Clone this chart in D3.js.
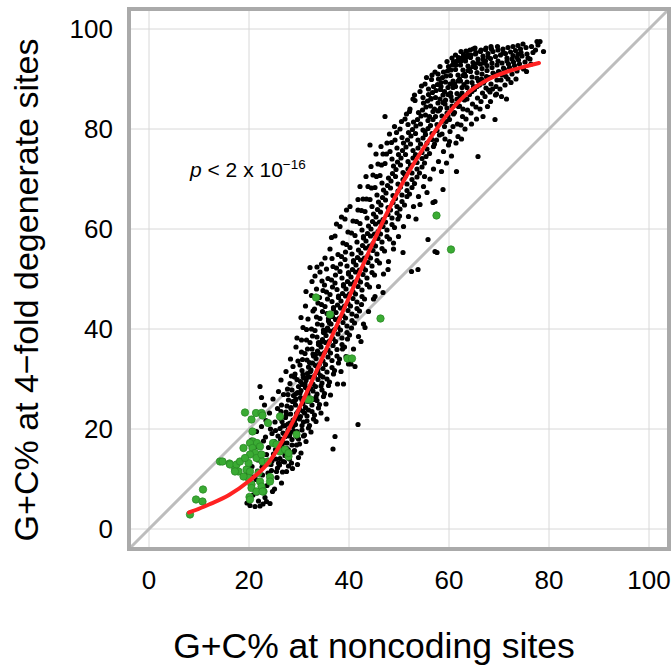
<!DOCTYPE html>
<html>
<head>
<meta charset="utf-8">
<script src="https://cdn.jsdelivr.net/npm/d3@7"></script>
<style>
  html, body { margin: 0; padding: 0; background: #fff; }
  svg { display: block; }
  text { font-family: "Liberation Sans", Arial, Helvetica, sans-serif; fill: #000; }
</style>
</head>
<body>
<svg id="chart" width="672" height="669"></svg>
<script>
// ---- data ----
const xTicks = [0, 20, 40, 60, 80, 100];
const yTicks = [0, 20, 40, 60, 80, 100];
const xTitle = "G+C% at noncoding sites";
const yTitle = "G+C% at 4\u2212fold degenerate sites";

// fitted curve (noncoding GC, 4-fold GC)
const fitX = [8, 12, 16, 20, 24, 28, 32, 36, 40, 44, 48, 52, 56, 60, 64, 68, 72, 76, 78];
const fitY = [3.3, 4.9, 6.8, 9.6, 13.4, 20.0, 28.3, 37.2, 46.3, 55.5, 64.0, 71.5, 77.8, 83.3, 87.4, 90.0, 91.6, 92.7, 93.2];

// green genes [noncoding GC, 4-fold GC]
const greenPoints = [
[8.2,2.9],[9.4,5.9],[10.7,5.5],[10.8,7.9],[14.2,13.5],[14.7,13.5],[16.1,13.1],[16.2,12.9],[17.2,11.9],[17.5,12.9],
[18.2,13.5],[17.9,11.5],[17.2,11.5],[18.9,16.2],[19.5,11.9],[19.9,13.2],[19.2,23.3],[20.5,21.9],[21.4,23.2],[22.5,23.2],
[22.7,22.7],[23.8,21.2],[20.7,19.5],[20.8,17.5],[20.2,17.2],[21.6,17.2],[22.2,16.5],[20.7,16.2],[21.2,15.2],[20.2,14.9],
[19.2,14.2],[21.5,14.2],[26.2,22.5],[24.8,17.2],[25.5,16.9],[26.2,15.5],[27.2,15.9],[27.9,14.5],[29.5,18.9],[22.5,14.9],
[22.7,13.5],[23.8,13.5],[20.2,11.5],[19.9,10.2],[20.5,8.9],[20.5,8.2],[22.2,9.5],[22.5,8.5],[24.2,10.4],[24.2,9.5],
[21.5,7.5],[22.9,7.5],[20.1,6.4],[20.2,5.9],[21.9,11.2],[18.9,10.5],[32.2,25.9],[31.8,25.9],[27.9,15.2],[22.7,7.5],
[33.4,46.3],[36.2,42.9],[46.3,42.1],[39.7,34.1],[40.6,34.1],[57.5,62.7],[60.4,55.9]
];

// black genes [noncoding GC, 4-fold GC]
const blackPoints = [
[19.6,5.2],[19.8,11.0],
[20.2,4.7],[20.4,8.5],[20.6,12.5],[20.8,6.8],[20.5,17.8],[20.9,10.4],
[21.2,4.5],[21.4,9.9],[21.6,7.2],[21.8,13.8],[21.3,16.5],[21.7,11.6],[21.9,5.6],[21.5,19.5],
[22.2,4.6],[22.2,28.5],[22.5,26.3],[22.4,9.0],[22.6,12.4],[22.8,5.0],[22.3,15.1],[22.9,17.6],[22.7,10.8],[22.5,20.5],
[23.2,6.3],[23.5,14.9],[23.5,5.5],[23.8,11.2],[23.3,18.4],[23.6,8.7],[23.9,16.3],[23.4,21.7],[23.7,13.0],[23.1,24.8],
[24.2,5.1],[24.4,9.8],[24.6,13.6],[24.8,17.1],[24.3,20.0],[24.5,11.7],[24.7,7.5],[24.9,15.0],[24.1,23.2],[24.6,19.1],[24.8,26.0],[24.4,12.9],
[25.1,8.0],[25.7,12.2],[25.3,15.9],[25.8,18.6],[25.9,27.5],[25.2,21.4],[25.6,10.3],[25.4,14.0],[25.8,16.8],[25.3,19.7],[25.7,24.1],[25.5,11.5],[25.9,13.2],[25.1,17.5],
[26.5,9.2],[26.1,12.8],[26.7,15.4],[26.3,18.0],[26.8,20.6],[26.4,23.5],[26.9,26.9],[26.2,14.1],[26.6,16.6],[26.8,19.2],[26.3,22.1],[26.7,11.4],[26.9,17.3],[26.2,20.1],[26.5,24.8],[26.8,13.5],[26.4,29.8],[26.6,21.5],
[27.1,13.4],[27.6,16.1],[27.3,18.5],[27.8,21.0],[27.4,23.4],[27.9,25.8],[27.2,14.7],[27.6,17.2],[27.8,19.8],[27.3,22.3],[27.7,28.0],[27.5,11.5],[27.9,15.8],[27.1,19.0],[27.6,24.6],[27.8,26.9],[27.2,20.7],[27.4,31.5],[27.9,12.6],[27.5,22.9],
[28.1,14.0],[28.6,16.8],[28.3,19.3],[28.8,21.8],[28.4,24.3],[28.9,26.7],[28.2,29.1],[28.6,17.9],[28.8,20.5],[28.3,23.0],[28.7,25.5],[28.5,13.2],[28.9,15.4],[28.1,18.6],[28.6,27.8],[28.8,32.5],[28.2,21.2],[28.4,24.1],[28.9,19.6],[28.5,30.6],[28.7,12.1],[28.3,34.0],
[29.1,15.7],[29.6,18.4],[29.3,20.9],[29.8,23.5],[29.4,26.0],[29.9,28.5],[29.2,31.0],[29.6,19.5],[29.8,22.2],[29.3,24.8],[29.7,27.3],[29.5,16.8],[29.9,14.3],[29.1,21.6],[29.6,29.9],[29.8,33.6],[29.2,25.7],[29.4,36.4],[29.9,18.0],[29.5,23.1],[29.7,12.9],[29.3,27.0],[29.6,38.2],[29.1,30.4],
[30.1,17.0],[30.6,19.8],[30.3,22.5],[30.8,25.1],[30.4,27.7],[30.9,30.3],[30.2,32.8],[30.6,20.7],[30.8,23.6],[30.3,26.3],[30.7,28.9],[30.5,35.4],[30.9,18.6],[30.1,24.0],[30.6,31.7],[30.8,40.3],[30.2,27.2],[30.4,15.2],[30.9,21.4],[30.5,37.8],[30.7,33.9],[30.3,29.5],[30.6,25.8],[30.1,22.0],[30.8,30.9],[30.4,42.3],
[31.1,18.8],[31.6,21.6],[31.3,24.3],[31.8,27.0],[31.4,29.7],[31.9,32.4],[31.2,35.1],[31.6,22.6],[31.8,25.5],[31.3,28.3],[31.7,31.1],[31.5,37.8],[31.9,20.2],[31.1,26.0],[31.6,33.8],[31.8,42.0],[31.2,29.0],[31.4,17.5],[31.9,23.8],[31.5,39.9],[31.7,36.0],[31.3,44.6],[31.6,30.3],[31.1,23.2],[31.8,27.8],[31.4,47.5],
[32.1,20.7],[32.6,23.5],[32.3,26.2],[32.8,29.0],[32.4,31.8],[32.9,34.6],[32.2,37.3],[32.6,24.8],[32.8,27.6],[32.3,30.4],[32.7,33.2],[32.5,40.0],[32.9,22.0],[32.1,28.3],[32.6,36.0],[32.8,43.6],[32.2,52.3],[32.4,19.4],[32.9,25.9],[32.5,46.7],[32.7,38.6],[32.3,31.5],[32.6,49.5],[32.1,33.3],[32.8,35.0],[32.4,28.1],
[33.1,22.8],[33.6,25.7],[33.3,28.5],[33.8,31.3],[33.4,34.1],[33.9,36.9],[33.2,39.7],[33.6,27.0],[33.8,29.9],[33.3,32.7],[33.7,35.6],[33.5,42.4],[33.9,24.2],[33.1,30.6],[33.6,38.4],[33.8,45.2],[33.2,50.6],[33.4,21.5],[33.9,37.3],[33.5,48.0],[33.7,41.0],[33.3,34.9],[33.6,52.4],[33.1,44.0],[33.8,32.0],[33.4,26.4],
[34.1,24.9],[34.6,27.8],[34.3,30.7],[34.8,33.6],[34.4,36.4],[34.9,39.3],[34.2,42.1],[34.6,29.2],[34.8,32.1],[34.3,35.0],[34.7,37.9],[34.5,44.9],[34.9,26.5],[34.1,33.0],[34.6,40.8],[34.8,47.7],[34.2,51.4],[34.4,23.2],[34.9,39.8],[34.5,53.0],[34.7,43.5],[34.3,37.3],[34.6,49.6],[34.1,46.3],[34.8,30.4],[34.4,28.6],
[35.1,27.1],[35.6,30.0],[35.3,32.9],[35.8,35.8],[35.4,38.7],[35.9,41.6],[35.2,44.5],[35.6,31.4],[35.8,34.4],[35.3,37.3],[35.7,40.2],[35.5,47.4],[35.9,28.7],[35.1,35.3],[35.6,43.1],[35.8,50.1],[35.2,54.2],[35.4,25.0],[35.9,42.1],[35.5,52.0],[35.7,46.0],[35.3,39.6],[35.6,22.0],[35.1,48.8],
[36.1,29.4],[36.6,32.3],[36.3,35.2],[36.8,38.1],[36.4,41.0],[36.9,44.0],[36.2,46.9],[36.6,33.7],[36.8,36.7],[36.3,39.6],[36.7,42.5],[36.5,49.8],[36.9,31.0],[36.1,37.6],[36.6,45.5],[36.8,52.5],[36.2,56.0],[36.8,16.0],[36.9,44.3],[36.5,58.3],[36.7,48.4],[36.3,26.8],[36.6,54.1],[36.1,41.2],
[37.1,31.7],[37.6,34.6],[37.3,37.5],[37.8,40.4],[37.4,43.3],[37.9,46.3],[37.2,49.2],[37.6,35.9],[37.8,39.0],[37.3,41.9],[37.7,44.8],[37.5,52.2],[37.9,33.2],[37.1,39.9],[37.6,47.9],[37.8,54.9],[37.2,58.6],[37.2,18.5],[37.9,46.6],[37.5,61.0],[37.7,29.0],[37.3,50.8],
[38.1,34.0],[38.6,36.9],[38.3,39.8],[38.8,42.7],[38.4,45.6],[38.9,48.6],[38.2,51.5],[38.6,38.2],[38.8,41.3],[38.3,44.2],[38.7,47.1],[38.5,54.5],[38.9,29.0],[38.1,42.2],[38.6,50.2],[38.8,57.2],[38.2,60.5],[38.4,31.5],[38.9,48.9],[38.5,62.4],[38.7,36.0],[38.3,53.0],
[39.1,36.4],[39.6,39.3],[39.3,42.2],[39.8,45.1],[39.4,48.0],[39.9,51.0],[39.2,53.9],[39.6,40.6],[39.8,43.7],[39.3,46.6],[39.7,49.5],[39.5,56.9],[39.9,33.0],[39.1,44.6],[39.6,52.6],[39.8,59.4],[39.2,62.0],[39.4,34.5],[39.9,51.3],[39.5,63.8],[39.7,38.0],[39.3,55.4],
[40.1,38.8],[40.6,41.7],[40.3,44.6],[40.8,47.5],[40.4,50.4],[40.9,53.4],[40.2,56.3],[40.6,43.0],[40.8,46.1],[40.3,49.0],[40.7,51.9],[40.5,59.2],[40.9,36.0],[40.1,47.0],[40.6,55.0],[40.8,61.6],[40.2,64.5],[40.4,33.0],[40.9,53.7],[40.5,40.2],
[41.1,41.2],[41.6,44.1],[41.3,47.0],[41.8,49.9],[41.4,52.8],[41.9,55.8],[41.2,58.7],[41.6,45.4],[41.8,48.5],[41.3,51.4],[41.7,54.3],[41.5,61.5],[41.9,38.5],[41.1,49.4],[41.6,57.4],[41.8,63.8],[41.8,65.9],[41.8,20.9],[41.2,32.5],[41.5,42.6],
[42.1,43.6],[42.6,46.5],[42.3,49.4],[42.8,52.3],[42.4,55.2],[42.9,58.2],[42.2,61.1],[42.6,47.8],[42.8,50.9],[42.3,53.8],[42.7,56.7],[42.5,63.7],[42.9,41.0],[42.1,51.8],[42.6,59.8],[42.8,66.0],[42.2,68.5],[42.4,37.5],[42.9,58.5],[42.5,44.9],
[43.1,46.0],[43.6,48.9],[43.3,51.8],[43.8,54.7],[43.4,57.6],[43.9,60.6],[43.2,63.5],[43.6,50.2],[43.8,53.3],[43.3,56.2],[43.7,59.1],[43.5,66.0],[43.9,43.5],[43.1,54.2],[43.6,62.2],[43.8,68.5],[43.2,40.3],[43.4,70.5],
[44.1,48.4],[44.6,51.3],[44.3,54.2],[44.8,57.1],[44.4,60.0],[44.9,63.0],[44.2,65.9],[44.6,52.6],[44.8,55.7],[44.3,58.6],[44.7,61.5],[44.5,68.2],[44.9,46.0],[44.1,56.6],[44.6,64.5],[44.8,70.8],[44.2,76.8],[44.4,72.5],
[45.1,50.8],[45.6,53.7],[45.3,56.6],[45.8,59.5],[45.4,62.4],[45.9,65.4],[45.2,68.3],[45.6,55.0],[45.8,58.1],[45.3,61.0],[45.7,63.9],[45.5,70.5],[45.9,48.5],[45.1,59.0],[45.6,66.8],[45.8,73.0],[45.2,46.5],[45.4,75.0],
[46.1,53.2],[46.6,56.1],[46.3,59.0],[46.8,61.9],[46.4,64.8],[46.9,67.8],[46.2,70.7],[46.6,57.4],[46.8,60.5],[46.3,63.4],[46.7,66.3],[46.5,72.8],[46.9,51.0],[46.1,61.4],[46.6,69.2],[46.8,75.0],[46.8,47.3],[46.4,76.5],
[47.1,55.6],[47.6,58.5],[47.3,61.4],[47.8,64.3],[47.4,67.2],[47.9,70.2],[47.2,73.1],[47.6,59.8],[47.8,62.9],[47.3,65.8],[47.7,68.7],[47.5,75.0],[47.9,53.5],[47.2,82.5],[47.8,51.9],[47.6,77.2],
[48.1,58.0],[48.6,60.9],[48.3,63.8],[48.8,66.7],[48.4,69.6],[48.9,72.6],[48.2,75.5],[48.6,62.2],[48.8,65.3],[48.3,68.2],[48.7,71.1],[48.5,77.3],[48.9,56.0],[48.1,79.0],[48.6,74.0],[48.9,57.2],
[49.1,60.3],[49.6,63.2],[49.3,66.1],[49.8,69.0],[49.4,71.9],[49.9,74.9],[49.2,77.8],[49.6,64.5],[49.8,67.6],[49.3,70.5],[49.7,73.4],[49.5,79.3],[49.9,58.5],[49.1,80.5],[49.6,76.2],[49.8,62.0],
[50.1,62.6],[50.6,65.5],[50.3,68.4],[50.8,71.3],[50.4,74.2],[50.9,77.2],[50.2,80.0],[50.6,66.8],[50.8,69.9],[50.3,72.8],[50.7,75.7],[50.5,81.5],[50.9,60.5],[50.8,55.3],[50.6,78.3],[50.2,64.0],
[51.1,64.8],[51.6,67.7],[51.3,70.6],[51.8,73.5],[51.4,76.4],[51.9,79.3],[51.2,82.0],[51.6,69.0],[51.8,72.0],[51.3,74.9],[51.7,77.8],[51.5,83.0],[51.9,62.5],[51.8,80.9],[51.6,66.5],[51.1,71.0],
[52.1,67.0],[52.6,69.9],[52.3,72.8],[52.8,75.7],[52.4,78.6],[52.9,81.4],[52.2,84.0],[52.6,71.2],[52.8,74.2],[52.3,77.0],[52.7,79.9],[52.5,51.5],[52.9,64.5],[52.1,83.5],[52.6,68.3],[52.8,86.0],
[53.1,69.1],[53.6,72.0],[53.3,74.9],[53.8,77.8],[53.4,80.6],[53.9,83.3],[53.2,85.7],[53.6,73.3],[53.8,76.2],[53.3,79.1],[53.7,81.9],[53.8,51.9],[53.9,66.5],[53.1,86.8],[53.6,70.4],[53.4,62.0],
[54.1,71.2],[54.6,74.1],[54.3,77.0],[54.8,79.8],[54.4,82.6],[54.9,85.2],[54.2,87.5],[54.6,75.3],[54.8,78.2],[54.3,81.0],[54.7,83.8],[54.2,64.9],[54.9,68.5],[54.5,88.6],[54.6,72.4],[54.8,86.3],
[55.1,73.2],[55.6,76.0],[55.3,78.9],[55.8,81.7],[55.4,84.4],[55.9,86.9],[55.2,89.0],[55.6,77.2],[55.8,80.1],[55.3,82.8],[55.7,85.6],[55.8,57.9],[55.6,67.3],[55.1,70.5],[55.9,88.0],[55.4,74.5],[55.5,90.3],[55.2,79.5],
[56.1,75.1],[56.6,77.9],[56.3,80.7],[56.8,83.5],[56.4,86.1],[56.9,88.5],[56.5,89.9],[56.6,79.1],[56.8,81.9],[56.3,84.6],[56.7,87.3],[56.8,65.3],[56.9,72.0],[56.1,82.5],[56.4,86.0],[56.6,90.8],[56.2,70.0],[56.9,76.5],
[57.1,77.0],[57.6,79.7],[57.3,82.5],[57.8,85.2],[57.4,87.7],[57.9,90.0],[57.2,91.4],[57.6,80.9],[57.8,83.6],[57.3,86.3],[57.7,88.9],[57.2,55.5],[57.2,65.5],[57.6,55.3],[57.9,73.5],[57.1,84.0],[57.5,77.8],[57.8,91.0],
[58.1,78.8],[58.6,81.5],[58.3,84.2],[58.8,86.8],[58.4,89.3],[58.9,91.4],[58.2,92.5],[58.6,82.6],[58.8,85.3],[58.3,87.9],[58.7,90.3],[58.8,67.9],[58.5,71.5],[58.9,75.5],[58.1,83.8],[58.4,88.5],[58.6,79.0],[58.2,86.0],
[59.1,80.5],[59.6,83.2],[59.3,85.8],[59.8,88.3],[59.4,90.6],[59.9,92.5],[59.2,78.0],[59.6,84.2],[59.8,86.9],[59.3,89.4],[59.7,91.6],[59.5,73.2],[59.9,76.8],[59.1,87.5],[59.4,81.5],[59.6,93.5],[59.8,82.7],[59.2,85.0],
[60.1,81.9],[60.6,84.6],[60.3,87.2],[60.8,89.6],[60.4,91.8],[60.9,93.5],[60.2,79.5],[60.6,85.7],[60.8,88.3],[60.3,90.7],[60.7,92.8],[60.5,74.6],[60.9,83.0],[60.1,77.5],[60.4,86.5],[60.6,94.2],[60.8,80.5],[60.2,89.0],
[61.1,83.3],[61.6,86.0],[61.3,88.5],[61.8,90.8],[61.4,92.8],[61.9,94.3],[61.5,71.5],[61.6,87.1],[61.8,89.6],[61.3,91.9],[61.7,81.0],[61.4,77.2],[61.9,84.5],[61.1,89.0],[61.6,93.6],[61.8,78.5],[61.3,94.8],[61.5,85.0],
[62.1,84.6],[62.6,87.2],[62.3,89.6],[62.8,91.8],[62.4,93.6],[62.9,94.9],[62.4,80.8],[62.6,88.3],[62.8,90.7],[62.3,92.8],[62.7,82.5],[62.5,78.0],[62.9,86.0],[62.1,90.0],[62.6,94.2],[62.8,84.0],[62.4,95.5],[62.2,86.6],
[63.1,85.8],[63.6,88.3],[63.3,90.6],[63.8,92.6],[63.4,94.3],[63.5,94.5],[63.4,82.0],[63.6,89.4],[63.8,91.7],[63.3,93.6],[63.7,83.8],[63.8,94.9],[63.9,87.3],[63.1,91.0],[63.6,86.0],[63.2,80.0],[63.4,95.6],[63.0,88.9],
[64.1,86.9],[64.6,89.3],[64.3,91.5],[64.8,93.3],[64.4,94.8],[64.2,95.8],[64.4,83.2],[64.6,90.4],[64.8,92.5],[64.3,94.3],[64.7,85.0],[64.5,81.0],[64.9,88.5],[64.1,92.0],[64.6,87.5],[64.8,96.0],
[65.1,87.9],[65.6,90.2],[65.3,92.3],[65.8,94.0],[65.4,95.3],[65.8,74.5],[65.4,84.4],[65.6,91.3],[65.8,93.2],[65.3,95.0],[65.7,86.2],[65.5,82.0],[65.9,89.6],[65.1,93.0],[65.6,88.5],[65.2,96.2],
[66.1,88.8],[66.6,91.0],[66.3,93.0],[66.8,94.6],[66.4,95.8],[66.8,82.5],[66.4,85.5],[66.6,92.1],[66.8,93.9],[66.3,95.5],[66.7,87.2],[66.5,90.0],[66.9,89.2],[66.2,84.0],
[67.1,89.6],[67.6,91.7],[67.3,93.6],[67.8,95.1],[67.4,96.2],[67.2,86.5],[67.4,88.2],[67.6,92.7],[67.8,94.4],[67.3,95.9],[67.7,84.5],[67.5,90.5],[67.9,87.8],[67.1,93.2],
[68.1,90.3],[68.6,92.3],[68.3,94.1],[68.8,95.5],[68.4,96.5],[68.2,87.4],[68.4,89.0],[68.6,93.2],[68.8,91.2],[68.3,85.5],[68.7,88.0],[68.5,96.0],
[69.1,90.9],[69.6,92.8],[69.3,94.5],[69.8,95.8],[69.2,81.9],[69.4,88.5],[69.6,89.8],[69.8,93.6],[69.9,91.5],[69.3,86.8],[69.7,96.5],[69.5,87.0],
[70.1,91.4],[70.6,93.2],[70.3,94.8],[70.8,96.0],[70.9,92.2],[70.2,88.0],[70.4,89.8],[70.6,90.8],[70.8,95.2],[70.5,86.5],
[71.1,91.9],[71.6,93.6],[71.3,95.1],[71.8,96.3],[71.9,93.0],[71.2,88.8],[71.4,90.5],[71.6,94.2],[71.8,90.0],[71.5,86.0],
[72.1,92.3],[72.6,94.0],[72.3,95.4],[72.8,96.5],[72.9,93.4],[72.4,89.3],[72.6,91.0],[72.8,94.7],
[73.1,92.7],[73.6,94.3],[73.3,95.7],[73.8,96.7],[73.9,93.8],[73.4,90.0],[73.6,91.6],[73.8,95.0],
[74.1,93.0],[74.6,94.6],[74.3,96.0],[74.8,97.0],[74.9,92.0],[74.4,95.3],
[75.2,93.4],[75.6,95.0],[75.4,96.3],[75.8,94.2],[75.5,91.5],
[76.2,94.0],[76.5,96.5],[76.8,95.3],[76.4,93.0],
[77.3,95.8],[77.6,97.5],[77.8,96.8],
[78.2,97.5],[78.9,95.5]
];

const annotationMain = "p < 2 x 10";
const annotationExp = "\u221216";

// ---- drawing ----
const svg = d3.select("#chart");
const x = d3.scaleLinear().domain([-4, 104]).range([129, 669]);
const y = d3.scaleLinear().domain([-4, 104]).range([549, 9]);

const [x0, x1] = x.range();
const [y0, y1] = y.range();

// grid
svg.append("g").selectAll("line").data(xTicks).join("line")
  .attr("x1", d => x(d)).attr("x2", d => x(d))
  .attr("y1", y1).attr("y2", y0)
  .attr("stroke", "#d8d8d8").attr("stroke-width", 1);
svg.append("g").selectAll("line").data(yTicks).join("line")
  .attr("y1", d => y(d)).attr("y2", d => y(d))
  .attr("x1", x0).attr("x2", x1)
  .attr("stroke", "#d8d8d8").attr("stroke-width", 1);

// diagonal y = x
svg.append("line")
  .attr("x1", x(-4)).attr("y1", y(-4))
  .attr("x2", x(104)).attr("y2", y(104))
  .attr("stroke", "#bdbdbd").attr("stroke-width", 3);

// black points
svg.append("g").selectAll("circle").data(blackPoints).join("circle")
  .attr("cx", d => x(d[0])).attr("cy", d => y(d[1]))
  .attr("r", 2.6).attr("fill", "#000");

// green points
svg.append("g").selectAll("circle").data(greenPoints).join("circle")
  .attr("cx", d => x(d[0])).attr("cy", d => y(d[1]))
  .attr("r", 3.7).attr("fill", "#3aab33").attr("stroke", "#2b8a27").attr("stroke-width", 0.8);

// fitted curve
const fit = fitX.map((v, i) => [v, fitY[i]]);
svg.append("path")
  .datum(fit)
  .attr("d", d3.line().x(d => x(d[0])).y(d => y(d[1])).curve(d3.curveMonotoneX))
  .attr("fill", "none").attr("stroke", "#ff2222").attr("stroke-width", 4)
  .attr("stroke-linecap", "round");

// frame
svg.append("rect")
  .attr("x", x0).attr("y", y1)
  .attr("width", x1 - x0).attr("height", y0 - y1)
  .attr("fill", "none").attr("stroke", "#aaaaaa").attr("stroke-width", 4);

// tick labels
svg.append("g").selectAll("text").data(yTicks).join("text")
  .attr("x", 113).attr("y", d => y(d))
  .attr("text-anchor", "end").attr("dominant-baseline", "central")
  .style("font-size", "26px")
  .text(d => d);
svg.append("g").selectAll("text").data(xTicks).join("text")
  .attr("x", d => x(d)).attr("y", 580)
  .attr("text-anchor", "middle").attr("dominant-baseline", "central")
  .style("font-size", "26px")
  .text(d => d);

// axis titles
svg.append("text")
  .attr("x", 374).attr("y", 658)
  .attr("text-anchor", "middle")
  .style("font-size", "35.5px")
  .text(xTitle);
svg.append("text")
  .attr("transform", "translate(38,290) rotate(-90)")
  .attr("text-anchor", "middle")
  .style("font-size", "34px")
  .text(yTitle);

// annotation
const ann = svg.append("text").attr("x", 190).attr("y", 177).style("font-size", "21px");
ann.append("tspan").style("font-style", "italic").text(annotationMain.slice(0, 1));
ann.append("tspan").text(annotationMain.slice(1));
ann.append("tspan").attr("dy", -8).style("font-size", "13.5px").text(annotationExp);
</script>
</body>
</html>
